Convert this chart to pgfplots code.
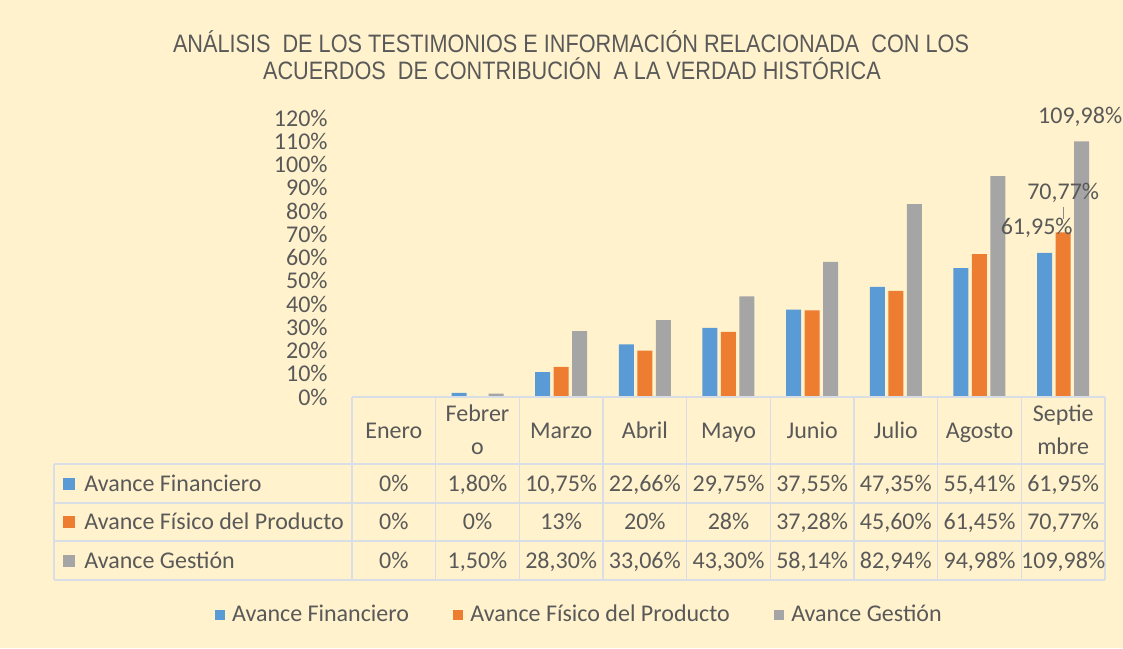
\documentclass[border=0pt]{standalone}
\usepackage{pgfplots}
\pgfplotsset{compat=1.18}
\usepackage{fontspec}
\setmainfont{Carlito}
\newfontfamily\titlefont[FakeStretch=0.86]{Liberation Sans}
\definecolor{bgc}{HTML}{FFF2CC}
\definecolor{cblue}{HTML}{5B9BD5}
\definecolor{corange}{HTML}{ED7D31}
\definecolor{cgray}{HTML}{A5A5A5}
\definecolor{txt}{HTML}{595959}
\definecolor{gridc}{HTML}{D9DEE6}
\newcommand{\tf}{\fontsize{12}{16.5}\selectfont}
\pgfplotsset{
  sqlegend/.style={legend image code/.code={\path[##1,draw=none] (0pt,-2.6pt) rectangle (5.2pt,2.6pt);}},
  lbl/.style={nodes near coords, point meta=explicit symbolic,
    nodes near coords style={anchor=center, font=\tf, text=txt, #1}}
}
\tikzset{cell/.style={text=txt, font=\tf, inner sep=0pt, anchor=base}}

\begin{document}
\begin{tikzpicture}[x=0.5pt,y=0.5pt]
\useasboundingbox (0,0) rectangle (1123,648);
\fill[bgc] (0,0) rectangle (1123,648);
% title
\node[text=txt, font=\titlefont\fontsize{12.6}{13}\selectfont] at (571,606.5)
  {ANÁLISIS\ \ DE LOS TESTIMONIOS E INFORMACIÓN RELACIONADA\ \ CON LOS};
\node[text=txt, font=\titlefont\fontsize{12.6}{13}\selectfont] at (572,579)
  {ACUERDOS\ \ DE CONTRIBUCIÓN\ \ A LA VERDAD HISTÓRICA};

\coordinate (orig) at (352,251);
\begin{axis}[
  at={(orig)}, anchor=south west,
  scale only axis, width=376.5pt, height=139.5pt,
  xmin=-0.5, xmax=8.5, ymin=0, ymax=120,
  ytick={0,10,...,120}, xtick=\empty,
  axis line style={draw=none}, ytick style={draw=none},
  yticklabel={\pgfmathprintnumber{\tick}\%},
  yticklabel style={inner sep=0pt, font=\tf, text=txt},
  yticklabel shift=12pt,
  /pgf/number format/assume math mode=true,
  ybar=1.75pt, bar width=7.5pt,
  clip=false,
  legend columns=3,
  legend style={at={(axis description cs:0.303,-0.781)}, anchor=center,
    draw=none, fill=none, font=\tf, text=txt,
    /tikz/every odd column/.append style={column sep=1.5pt},
    /tikz/every even column/.append style={column sep=20pt}},
]
\addplot[fill=cblue, draw=none, sqlegend, lbl={xshift=-4pt, yshift=12.5pt}] coordinates
  {(0,0)[] (1,1.80)[] (2,10.75)[] (3,22.66)[] (4,29.75)[] (5,37.55)[] (6,47.35)[] (7,55.41)[] (8,61.95)[61,95\%]};
\addplot[fill=corange, draw=none, sqlegend, lbl={yshift=19.75pt}] coordinates
  {(0,0)[] (1,0)[] (2,13)[] (3,20)[] (4,28)[] (5,37.28)[] (6,45.60)[] (7,61.45)[] (8,70.77)[70,77\%]};
\addplot[fill=cgray, draw=none, sqlegend, lbl={xshift=-0.75pt, yshift=12pt}] coordinates
  {(0,0)[] (1,1.50)[] (2,28.30)[] (3,33.06)[] (4,43.30)[] (5,58.14)[] (6,82.94)[] (7,94.98)[] (8,109.98)[109,98\%]};
\legend{Avance Financiero, Avance Físico del Producto, Avance Gestión}
\end{axis}

% leader line for 70,77%
\draw[txt!70, line width=0.4pt] (1063,441) -- (1063,429);

% data table grid
\begin{scope}[draw=gridc, line width=0.8pt]
\draw (352,251) -- (1105,251);
\foreach \y in {184,145,107,68} \draw (54,\y) -- (1105,\y);
\draw (54,184) -- (54,68);
\foreach \i in {0,...,9} \draw ({352+83.667*\i},251) -- ({352+83.667*\i},68);
\end{scope}

% header
\foreach \i/\m in {0/Enero,2/Marzo,3/Abril,4/Mayo,5/Junio,6/Julio,7/Agosto}
  \node[cell] at ({393.83+83.667*\i},209.7) {\m};
\foreach \i/\a/\b in {1/Febrer/o,8/Septie/mbre}{
  \node[cell] at ({393.83+83.667*\i},226.2) {\a};
  \node[cell] at ({393.83+83.667*\i},193.2) {\b};
}

% row labels
\fill[cblue] (63,158.5) rectangle (75,170.5);
\fill[corange] (63,120) rectangle (75,132);
\fill[cgray] (63,81.5) rectangle (75,93.5);
\node[cell, anchor=base west] at (84,156.7) {Avance Financiero};
\node[cell, anchor=base west] at (84,118.2) {Avance Físico del Producto};
\node[cell, anchor=base west] at (84,79.7) {Avance Gestión};

% values
\foreach \i/\v in {0/{0\%},1/{1,80\%},2/{10,75\%},3/{22,66\%},4/{29,75\%},5/{37,55\%},6/{47,35\%},7/{55,41\%},8/{61,95\%}}
  \node[cell] at ({393.83+83.667*\i},156.7) {\v};
\foreach \i/\v in {0/{0\%},1/{0\%},2/{13\%},3/{20\%},4/{28\%},5/{37,28\%},6/{45,60\%},7/{61,45\%},8/{70,77\%}}
  \node[cell] at ({393.83+83.667*\i},118.2) {\v};
\foreach \i/\v in {0/{0\%},1/{1,50\%},2/{28,30\%},3/{33,06\%},4/{43,30\%},5/{58,14\%},6/{82,94\%},7/{94,98\%},8/{109,98\%}}
  \node[cell] at ({393.83+83.667*\i},79.7) {\v};
\end{tikzpicture}
\end{document}
